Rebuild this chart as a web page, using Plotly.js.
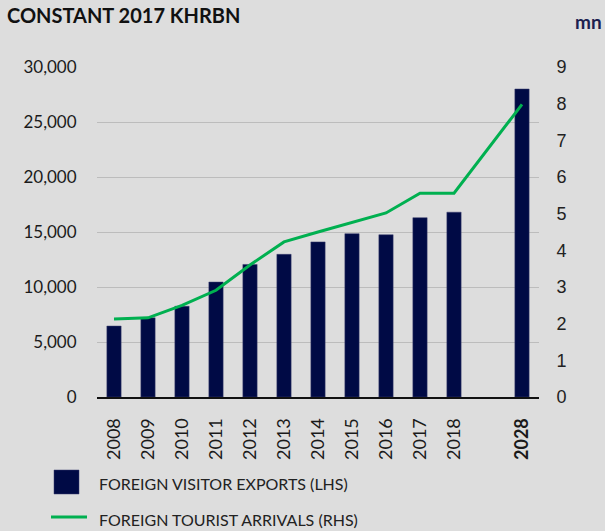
<!DOCTYPE html>
<html>
<head>
<meta charset="utf-8">
<script src="https://cdn.plot.ly/plotly-3.0.1.min.js"></script>
<style>html,body{margin:0;padding:0;background:#dddddd;}#chart{width:605px;height:531px;}</style>
</head>
<body>
<div id="chart"></div>
<script>
// ---- data ----
const years = ['2008','2009','2010','2011','2012','2013','2014','2015','2016','2017','2018','2028'];
const visitorExports = [6450, 7200, 8250, 10450, 12050, 12970, 14100, 14850, 14750, 16300, 16800, 28000]; // constant 2017 KHRbn (LHS)
const touristArrivals = [2.13, 2.16, 2.5, 2.91, 3.6, 4.23, 4.5, 4.77, 5.02, 5.56, 5.56, 7.98]; // mn (RHS)
const gapSlot = '2019-2027';
const seriesNames = ['FOREIGN VISITOR EXPORTS (LHS)', 'FOREIGN TOURIST ARRIVALS (RHS)'];
const chartTitle = 'CONSTANT 2017 KHRBN';
const rightUnit = 'mn';

// ---- layout helpers ----
const W = 605, H = 531;
const M = {l: 97, r: 66, t: 67, b: 134};
const plotW = W - M.l - M.r, plotH = H - M.t - M.b;
const px = x => (x - M.l) / plotW;
const py = y => (H - M.b - y) / plotH;

const navy = '#000a45';
const green = '#00b050';

// axis categories with an empty slot before the final year
const cats = years.slice(0, -1).concat([gapSlot, years[years.length - 1]]);
const barX = cats;
const barY = visitorExports.slice(0, -1).concat([null, visitorExports[visitorExports.length - 1]]);
const tickText = years.map((y, i) => i === years.length - 1 ? '<b>' + y + '</b>' : y);

const traces = [
  {type: 'bar', x: barX, y: barY, name: seriesNames[0], marker: {color: navy, line: {color: '#3a3f6e', width: 0.5}},
   yaxis: 'y', showlegend: false},
  {type: 'scatter', mode: 'lines', x: years, y: touristArrivals, name: seriesNames[1],
   line: {color: green, width: 3}, yaxis: 'y2', showlegend: false}
];

const layout = {
  width: W, height: H,
  margin: M,
  paper_bgcolor: '#dddddd', plot_bgcolor: '#dddddd',
  bargap: 0.58,
  font: {family: 'Lato, sans-serif', color: '#222'},
  title: {text: chartTitle, x: 7 / W, xref: 'container', xanchor: 'left', y: 1 - 16 / H, yref: 'container', yanchor: 'middle',
          font: {family: 'Lato, sans-serif', size: 20, color: '#111', weight: 'bold'}},
  xaxis: {type: 'category', categoryorder: 'array', categoryarray: cats,
          tickvals: years, ticktext: tickText, tickangle: -90,
          tickfont: {family: 'Lato, sans-serif', size: 18, color: '#1a1a1a'},
          ticks: 'outside', ticklen: 12, tickcolor: 'rgba(0,0,0,0)',
          showline: true, linecolor: '#111', linewidth: 2, showgrid: false, zeroline: false, fixedrange: true},
  yaxis: {range: [0, 30000], dtick: 5000, tickformat: ',d',
          tickfont: {family: 'Lato, sans-serif', size: 17, color: '#1a1a1a'},
          ticks: 'outside', ticklen: 16, tickcolor: 'rgba(0,0,0,0)',
          showgrid: true, gridcolor: '#bcbcbc', gridwidth: 1, zeroline: false, showline: false},
  yaxis2: {range: [0, 9], dtick: 1, overlaying: 'y', side: 'right',
           tickfont: {family: 'Liberation Sans, Arial, sans-serif', size: 18, color: '#222'},
           ticks: 'outside', ticklen: 13, tickcolor: 'rgba(0,0,0,0)',
           showgrid: false, zeroline: false, showline: false},
  shapes: [
    {type: 'rect', xref: 'paper', yref: 'paper', x0: px(54), x1: px(79), y0: py(494), y1: py(470),
     fillcolor: navy, line: {color: '#3a3f6e', width: 0.5}},
    {type: 'line', xref: 'paper', yref: 'paper', x0: px(51), x1: px(87), y0: py(517), y1: py(517),
     line: {color: green, width: 3}}
  ],
  annotations: [
    {text: seriesNames[0], xref: 'paper', yref: 'paper', x: px(97), y: py(483), xanchor: 'left', yanchor: 'middle',
     showarrow: false, font: {family: 'Lato, sans-serif', size: 16, color: '#222'}},
    {text: seriesNames[1], xref: 'paper', yref: 'paper', x: px(97), y: py(519), xanchor: 'left', yanchor: 'middle',
     showarrow: false, font: {family: 'Lato, sans-serif', size: 16, color: '#222'}},
    {text: '<b>' + rightUnit + '</b>', xref: 'paper', yref: 'paper', x: px(604), y: py(21), xanchor: 'right', yanchor: 'middle',
     showarrow: false, font: {family: 'Lato, sans-serif', size: 19, color: '#1b2150'}}
  ]
};

Plotly.newPlot('chart', traces, layout, {staticPlot: true, displayModeBar: false});
</script>
</body>
</html>
